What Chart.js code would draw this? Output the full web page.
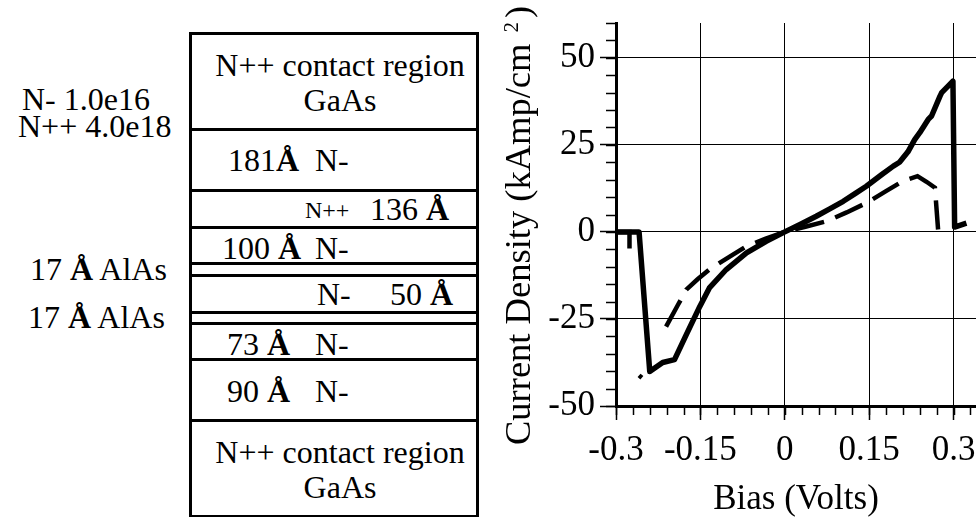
<!DOCTYPE html>
<html>
<head>
<meta charset="utf-8">
<script src="https://cdn.jsdelivr.net/npm/chart.js@4.4.0/dist/chart.umd.min.js"></script>
<style>
  body { margin:0; background:#fff; width:976px; height:517px; overflow:hidden; position:relative;
         font-family:'Liberation Serif', 'Times New Roman', serif; color:#000; }
  #stack { position:absolute; left:189px; top:32px; width:290px; height:486px; box-sizing:border-box; border:3px solid #000; }
  .rule { position:absolute; left:189px; width:290px; height:3px; background:#000; }
  .t { position:absolute; white-space:pre; }
  #plot { position:absolute; left:480px; top:0; width:496px; height:517px; }
</style>
</head>
<body>
<div id="stack"></div>
<div id="plot"><canvas id="chart"></canvas></div>
<script>
// I-V data (bias in volts, current density in kAmp/cm^2)
const biasSolid = [-0.3, -0.259, -0.240, -0.217, -0.196, -0.175, -0.151, -0.134, -0.104, -0.068, -0.033, 0,
  0.028, 0.056, 0.080, 0.104, 0.125, 0.145, 0.172, 0.193, 0.204, 0.219, 0.231, 0.240, 0.255, 0.261, 0.276, 0.279,
  0.299, 0.302, 0.323];
const currentSolid = [0, 0, -40.1, -37.5, -36.7, -29.5, -21.4, -16.1, -10.8, -6.0, -2.7, 0,
  2.2, 4.5, 6.6, 8.8, 11.0, 13.1, 16.4, 18.9, 20.0, 23.0, 26.5, 28.5, 32.3, 33.3, 39.0, 40.0,
  43.3, 1.4, 2.5];

const biasDashed = [-0.3, -0.276, -0.276, -0.268, -0.259, -0.254, -0.230, -0.211, -0.190, -0.175, -0.155, -0.134,
  -0.100, -0.068, -0.035, 0, 0.035, 0.074, 0.110, 0.145, 0.180, 0.210, 0.236, 0.252, 0.267, 0.2726];
const currentDashed = [0, 0, -6, null, -41.2, -41.9, null, -27.2, -21.0, -16.6, -13.6, -10.8,
  -7.3, -4.1, -2.0, 0, 1.4, 3.05, 5.6, 8.3, 11.7, 14.6, 16.0, 14.4, 12.7, 0.7];

const biasTicks = [-0.3, -0.15, 0, 0.15, 0.3];
const currentTicks = [-50, -25, 0, 25, 50];

// layer stack on the left
const layerLines = [129, 190, 227, 263, 275, 312, 323, 359, 420];
const stackLabels = [
  // [html, x, baseline, size, align]
  ['N- 1.0e16', 22, 110, 32, 'left'],
  ['N++ 4.0e18', 18, 137, 32, 'left'],
  ['17 <b>Å</b> AlAs', 30, 280, 32, 'left'],
  ['17 <b>Å</b> AlAs', 28, 328, 32, 'left'],
  ['N++ contact region', 340, 76, 32, 'center'],
  ['GaAs', 340, 111, 32, 'center'],
  ['181<b>Å</b>', 228, 171, 32, 'left'],
  ['N-', 315, 171, 32, 'left'],
  ['N++', 305, 218, 24, 'left'],
  ['136 <b>Å</b>', 370, 220, 32, 'left'],
  ['100 <b>Å</b>', 222, 259, 32, 'left'],
  ['N-', 315, 259, 32, 'left'],
  ['N-', 317, 305, 32, 'left'],
  ['50 <b>Å</b>', 390, 305, 32, 'left'],
  ['73 <b>Å</b>', 227, 355, 32, 'left'],
  ['N-', 315, 355, 32, 'left'],
  ['90 <b>Å</b>', 227, 402, 32, 'left'],
  ['N-', 315, 402, 32, 'left'],
  ['N++ contact region', 340, 463, 32, 'center'],
  ['GaAs', 340, 498, 32, 'center']
];

layerLines.forEach(y => {
  const d = document.createElement('div');
  d.className = 'rule';
  d.style.top = (y - 1.5) + 'px';
  document.body.appendChild(d);
});

stackLabels.forEach(([html, x, base, size, align]) => {
  const d = document.createElement('div');
  d.className = 't';
  d.innerHTML = html;
  d.style.fontSize = size + 'px';
  d.style.lineHeight = size + 'px';
  d.style.top = (base - 0.8375 * size) + 'px';
  d.style.left = x + 'px';
  if (align === 'center') d.style.transform = 'translateX(-50%)';
  document.body.appendChild(d);
});

const serif = "'Liberation Serif', 'Times New Roman', serif";

// minor ticks + rotated y title with superscript
const extras = {
  id: 'extras',
  afterDraw(chart) {
    const { ctx, scales: { x, y } } = chart;
    ctx.save();
    ctx.strokeStyle = '#000';
    ctx.lineWidth = 1.5;
    ctx.beginPath();
    for (let v = -50; v <= 60; v += 5) {
      const py = Math.round(y.getPixelForValue(v)) + 0.5;
      ctx.moveTo(x.left - 10, py);
      ctx.lineTo(x.left, py);
    }
    for (let i = 0; i <= 21; i++) {
      const px = Math.round(x.getPixelForValue(-0.3 + i * 0.03)) + 0.5;
      ctx.moveTo(px, y.bottom);
      ctx.lineTo(px, y.bottom + 9);
    }
    ctx.stroke();

    ctx.fillStyle = '#000';
    ctx.translate(50, 445);
    ctx.rotate(-Math.PI / 2);
    ctx.textBaseline = 'alphabetic';
    ctx.textAlign = 'left';
    ctx.font = '36.5px ' + serif;
    const main = 'Current Density (kAmp/cm';
    ctx.fillText(main, 0, 0);
    let u = ctx.measureText(main).width + ctx.measureText(' ').width + 2;
    ctx.font = '21px ' + serif;
    ctx.fillText('2', u, -12);
    u += ctx.measureText('2').width + 4;
    ctx.font = '36.5px ' + serif;
    ctx.fillText(')', u, 0);
    ctx.restore();
  }
};

new Chart(document.getElementById('chart'), {
  type: 'line',
  data: {
    datasets: [{
      label: 'solid',
      data: biasSolid.map((b, i) => ({ x: b, y: currentSolid[i] })),
      borderColor: '#000',
      borderWidth: 5.5,
      borderJoinStyle: 'round',
      pointRadius: 0,
      tension: 0
    }, {
      label: 'dashed',
      data: biasDashed.map((b, i) => ({ x: b, y: currentDashed[i] })),
      borderColor: '#000',
      borderWidth: 4.5,
      borderDash: [30, 12],
      pointRadius: 0,
      tension: 0,
      spanGaps: false
    }]
  },
  options: {
    responsive: true,
    maintainAspectRatio: false,
    animation: false,
    layout: { padding: { top: 23, right: 0, bottom: 0, left: 0 } },
    plugins: {
      legend: { display: false },
      tooltip: { enabled: false }
    },
    scales: {
      x: {
        type: 'linear',
        min: -0.3,
        max: 0.34,
        afterBuildTicks: s => { s.ticks = biasTicks.map(v => ({ value: v })); },
        afterFit: s => { s.height = 111; s.paddingLeft = 0; s.paddingRight = 0; },
        ticks: {
          color: '#000',
          font: { family: serif, size: 35 },
          padding: 10,
          maxRotation: 0,
          callback: v => String(v)
        },
        grid: { color: '#000', lineWidth: 1, tickLength: 14, tickColor: '#000', tickWidth: 1.5 },
        border: { color: '#000', width: 3 },
        title: {
          display: true,
          text: 'Bias (Volts)',
          color: '#000',
          font: { family: serif, size: 35 },
          padding: { top: 0, bottom: -4 }
        }
      },
      y: {
        min: -50,
        max: 60,
        afterBuildTicks: s => { s.ticks = currentTicks.map(v => ({ value: v })); },
        afterFit: s => { s.width = 136; s.paddingTop = 0; s.paddingBottom = 0; },
        ticks: {
          color: '#000',
          font: { family: serif, size: 35 },
          padding: 5,
          callback: v => String(v)
        },
        grid: { color: '#000', lineWidth: 1, tickLength: 16, tickColor: '#000', tickWidth: 1.5 },
        border: { color: '#000', width: 3 }
      }
    }
  },
  plugins: [extras]
});
</script>
</body>
</html>
